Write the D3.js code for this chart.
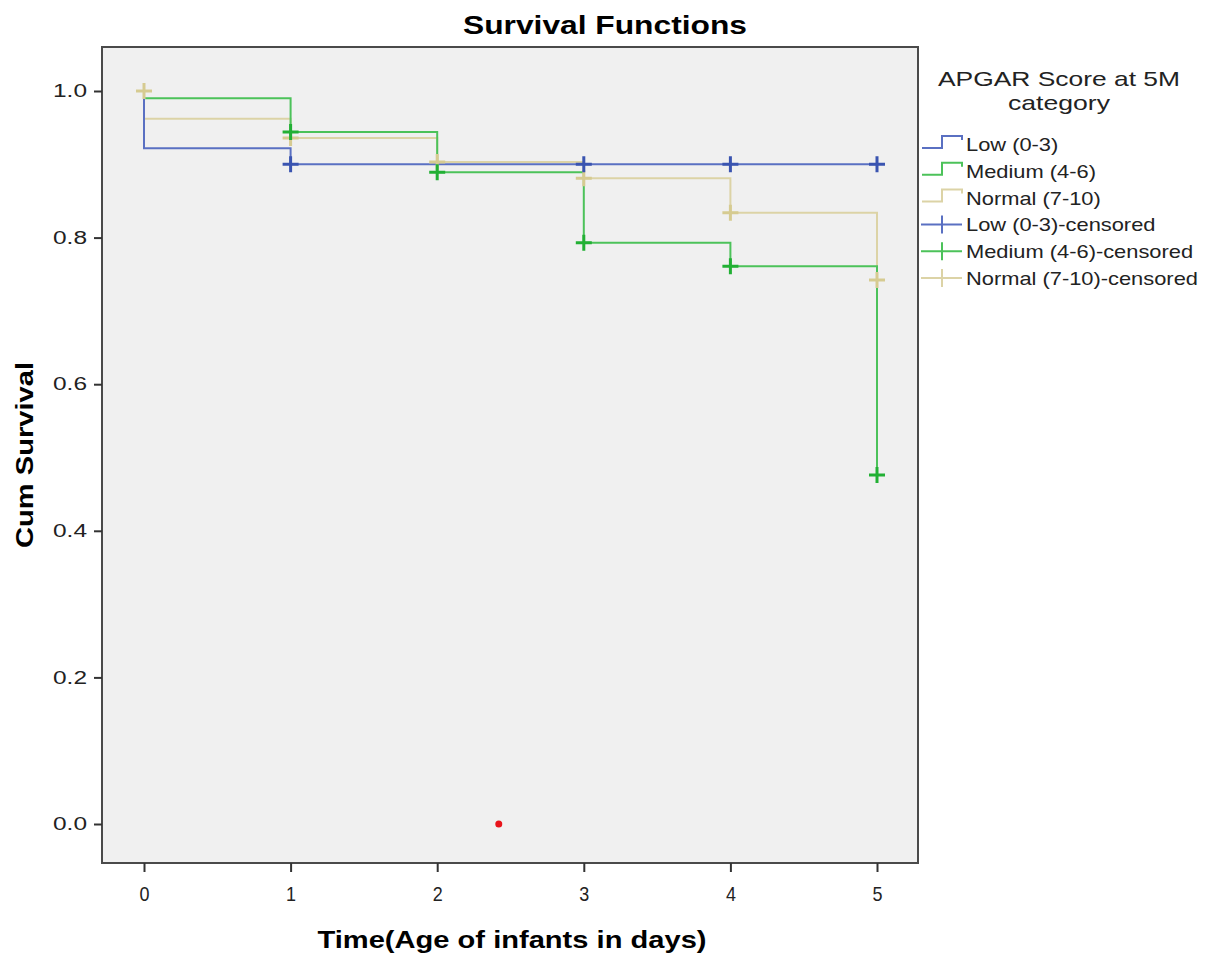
<!DOCTYPE html>
<html>
<head>
<meta charset="utf-8">
<script src="https://cdn.jsdelivr.net/npm/d3@7"></script>
<style>
  body { margin: 0; background: #fff; }
  text { font-family: "Liberation Sans", Arial, sans-serif; }
</style>
</head>
<body>
<main></main>
<script>
// step points: [time, survival] after each event
const groups = ["Low (0-3)", "Medium (4-6)", "Normal (7-10)"]
const lowSteps = [[0, 1.0], [0, 0.922], [1, 0.922], [1, 0.900], [5, 0.900]]
const medSteps = [[0, 1.0], [0, 0.990], [1, 0.990], [1, 0.944], [2, 0.944], [2, 0.889], [3, 0.889], [3, 0.793], [4, 0.793], [4, 0.761], [5, 0.761], [5, 0.476]]
const normSteps = [[0, 1.0], [0, 0.962], [1, 0.962], [1, 0.936], [2, 0.936], [2, 0.903], [3, 0.903], [3, 0.881], [4, 0.881], [4, 0.834], [5, 0.834], [5, 0.742]]
const lowCensored = [[1, 0.900], [3, 0.900], [4, 0.900], [5, 0.900]]
const medCensored = [[1, 0.944], [2, 0.889], [3, 0.793], [4, 0.761], [5, 0.476]]
const normCensored = [[0, 1.0], [1, 0.936], [2, 0.903], [3, 0.881], [4, 0.834], [5, 0.742]]
const redDot = [[2.42, 0.0]]
const xTicks = [0, 1, 2, 3, 4, 5]
const yTicks = [0, 0.2, 0.4, 0.6, 0.8, 1.0]

const lineColors = ["#5a70c2", "#4cc25a", "#dcd3a6"]
const markColors = ["#3a54b0", "#22b034", "#d6cb91"]

const width = 1209, height = 960
const frame = { left: 102, right: 918, top: 47, bottom: 863 }

let svg = d3.select("main").append("svg")
    .attr("width", width)
    .attr("height", height)

let x = d3.scaleLinear().domain([0, 5]).range([144, 877])
let y = d3.scaleLinear().domain([0, 1]).range([824, 91])

svg.append("rect")
    .attr("x", frame.left)
    .attr("y", frame.top)
    .attr("width", frame.right - frame.left)
    .attr("height", frame.bottom - frame.top)
    .attr("fill", "#f0f0f0")
    .attr("stroke", "#4a4a4a")
    .attr("stroke-width", 2)

// axes
let xAxis = svg.append("g")
    .attr("transform", `translate(0,${frame.bottom})`)
    .call(d3.axisBottom(x).tickValues(xTicks).tickFormat(d3.format("d")).tickSize(9).tickSizeOuter(0))
let yAxis = svg.append("g")
    .attr("transform", `translate(${frame.left},0)`)
    .call(d3.axisLeft(y).tickValues(yTicks).tickFormat(d3.format(".1f")).tickSize(8).tickSizeOuter(0))
for (let ax of [xAxis, yAxis]) {
    ax.select(".domain").remove()
    ax.selectAll("line").attr("stroke", "#333").attr("stroke-width", 2)
    ax.selectAll("text").attr("fill", "#222")
        .attr("font-family", "'Liberation Sans', Arial, sans-serif")
        .attr("lengthAdjust", "spacingAndGlyphs")
}
xAxis.selectAll("text").attr("font-size", "21px").attr("dy", "1.05em").attr("y", 16)
    .attr("textLength", 10)
yAxis.selectAll("text").attr("font-size", "18px").attr("x", -15)
    .attr("textLength", 34)

let line = d3.line().x(d => x(d[0])).y(d => y(d[1]))
let steps = [lowSteps, medSteps, normSteps]
let censored = [lowCensored, medCensored, normCensored]

// draw in reverse so Low sits on top like the reference
for (let i of [2, 1, 0]) {
    svg.append("path")
        .datum(steps[i])
        .attr("fill", "none")
        .attr("stroke", lineColors[i])
        .attr("stroke-width", 2)
        .attr("d", line)
}
for (let i of [2, 1, 0]) {
    svg.append("g").selectAll("path")
        .data(censored[i])
        .enter().append("path")
        .attr("d", d => `M${x(d[0]) - 8},${y(d[1])}h16M${x(d[0])},${y(d[1]) - 8}v16`)
        .attr("stroke", markColors[i])
        .attr("stroke-width", 3)
        .attr("fill", "none")
}

svg.selectAll(".red").data(redDot).enter().append("circle")
    .attr("cx", d => x(d[0]))
    .attr("cy", d => y(d[1]))
    .attr("r", 3.5)
    .attr("fill", "#e8141b")

// titles
svg.append("text")
    .attr("x", 605).attr("y", 34)
    .attr("text-anchor", "middle")
    .attr("font-size", "25px").attr("font-weight", "bold")
    .attr("textLength", 284).attr("lengthAdjust", "spacingAndGlyphs")
    .text("Survival Functions")
svg.append("text")
    .attr("x", 512).attr("y", 948)
    .attr("text-anchor", "middle")
    .attr("font-size", "24px").attr("font-weight", "bold")
    .attr("textLength", 389).attr("lengthAdjust", "spacingAndGlyphs")
    .text("Time(Age of infants in days)")
svg.append("text")
    .attr("transform", "translate(33,455) rotate(-90)")
    .attr("text-anchor", "middle")
    .attr("font-size", "24px").attr("font-weight", "bold")
    .attr("textLength", 186).attr("lengthAdjust", "spacingAndGlyphs")
    .text("Cum Survival")

// legend
let legend = svg.append("g")
legend.append("text")
    .attr("x", 1059).attr("y", 86)
    .attr("text-anchor", "middle")
    .attr("font-size", "21px").attr("fill", "#222")
    .attr("textLength", 242).attr("lengthAdjust", "spacingAndGlyphs")
    .text("APGAR Score at 5M")
legend.append("text")
    .attr("x", 1059).attr("y", 110)
    .attr("text-anchor", "middle")
    .attr("font-size", "21px").attr("fill", "#222")
    .attr("textLength", 102).attr("lengthAdjust", "spacingAndGlyphs")
    .text("category")

let legendItems = groups.map((g, i) => ({ label: g, kind: "step", i }))
    .concat(groups.map((g, i) => ({ label: g + "-censored", kind: "cross", i })))

legendItems.forEach((d, k) => {
    let cy = 144 + k * 26.8
    let g = legend.append("g")
    if (d.kind === "step") {
        g.append("path")
            .attr("d", `M922,${cy + 4}H942V${cy - 8}H962V${cy - 4}`)
            .attr("fill", "none")
            .attr("stroke", lineColors[d.i])
            .attr("stroke-width", 2)
    } else {
        g.append("path")
            .attr("d", `M921,${cy}H962M942,${cy - 9}V${cy + 9}`)
            .attr("fill", "none")
            .attr("stroke", lineColors[d.i])
            .attr("stroke-width", 2)
    }
    let t = g.append("text")
        .attr("x", 966).attr("y", cy + 7)
        .attr("font-size", "19px").attr("fill", "#222")
        .text(d.label)
    // reference text runs about 15% wider than Arial
    let w = t.node().getComputedTextLength()
    t.attr("textLength", w * 1.15).attr("lengthAdjust", "spacingAndGlyphs")
})
</script>
</body>
</html>
